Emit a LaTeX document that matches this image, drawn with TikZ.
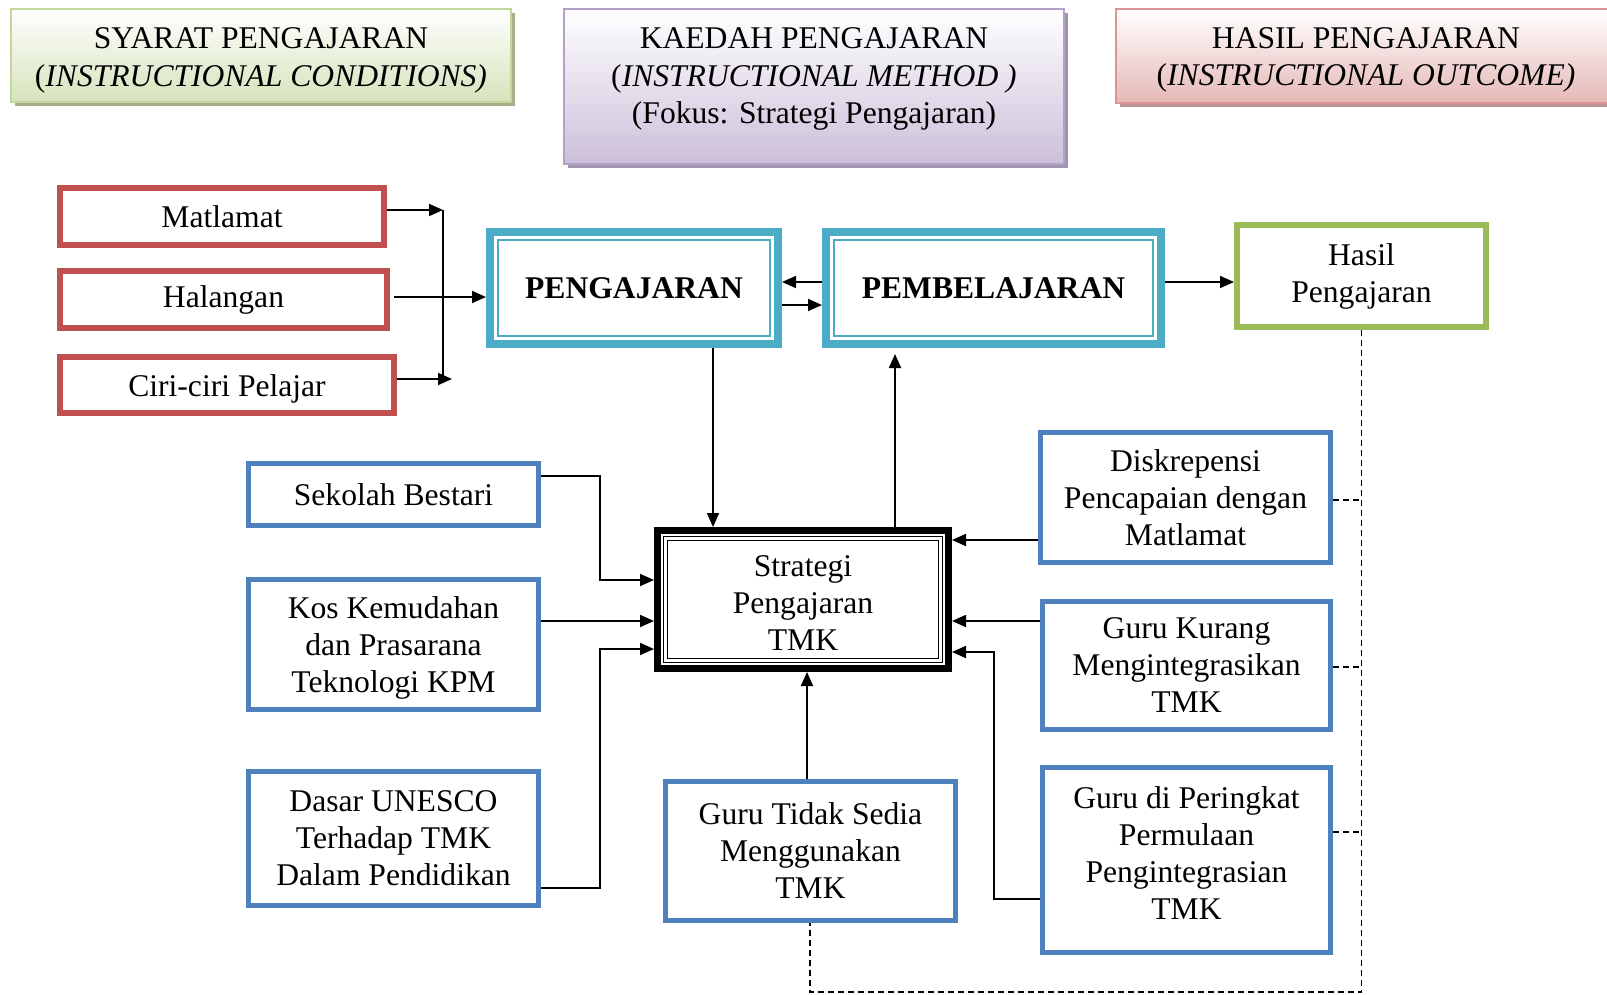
\documentclass[tikz,border=0pt]{standalone}
\usepackage{fontspec}
\setmainfont{Liberation Serif}
\usetikzlibrary{arrows.meta,calc}
\definecolor{cred}{HTML}{C0504D}
\definecolor{cteal}{HTML}{4BACC6}
\definecolor{cgreen}{HTML}{9BBB59}
\definecolor{cblue}{HTML}{4F81BD}
\definecolor{hgreenB}{HTML}{C3D69B}
\definecolor{hgreenF}{HTML}{D6E3BC}
\definecolor{hgreenS}{HTML}{A4AF8E}
\definecolor{hpurB}{HTML}{B2A2C7}
\definecolor{hpurF}{HTML}{CCC0DA}
\definecolor{hpurS}{HTML}{A096AE}
\definecolor{hpinkB}{HTML}{D99594}
\definecolor{hpinkF}{HTML}{E5B8B7}
\definecolor{hpinkS}{HTML}{B89697}
\newcommand{\upstrut}[1]{\rule{0pt}{#1}}
\newcommand{\dnstrut}[1]{\rule[-#1]{0pt}{#1}}
\begin{document}
\begin{tikzpicture}[x=0.5pt,y=-0.5pt,
  every node/.style={inner sep=0pt, align=center, font=\fontsize{15.8}{18.5}\selectfont},
  corners/.style n args={4}{at={({(#1+#3)/2},{(#2+#4)/2})},
      minimum width={(#3-#1)*0.5pt}, minimum height={(#4-#2)*0.5pt}},
  redbox/.style={draw=cred, line width=3pt, outer sep=1.5pt},
  tealbox/.style={draw=cteal, line width=4pt, outer sep=2pt, font=\fontsize{15.8}{18.5}\selectfont\bfseries},
  greenbox/.style={draw=cgreen, line width=3pt, outer sep=1.5pt},
  bluebox/.style={draw=cblue, line width=2.5pt, outer sep=1.25pt},
  stratbox/.style={draw=black, line width=3.5pt, outer sep=1.75pt},
  hdrgreen/.style={draw=hgreenB, line width=1.2pt, top color=white, bottom color=hgreenF},
  hdrpur/.style={draw=hpurB, line width=1.2pt, top color=white, bottom color=hpurF},
  hdrpink/.style={draw=hpinkB, line width=1.2pt, top color=white, bottom color=hpinkF},
  htxt/.style={font=\fontsize{15.8}{18.8}\selectfont},
  conn/.style={line width=0.9pt},
  arr/.style={conn, -{Triangle[length=7pt,width=6pt]}},
  dsh/.style={line width=0.9pt, dash pattern=on 3pt off 2pt},
]
\useasboundingbox (0,0) rectangle (1607,995);
\clip (0,0) rectangle (1607,995);

% headers
\fill[hgreenS] (15,13) rectangle (515,106);
\node[hdrgreen, corners={11}{9}{511}{102}] (hg) {};
\node[htxt] (hgt) at ($(hg.center)+(0,5)$) {SYARAT PENGAJARAN\\(\textit{INSTRUCTIONAL CONDITIONS)}};

\fill[hpurS] (568,13) rectangle (1068,168);
\node[hdrpur, corners={564}{9}{1064}{164}] (hp) {};
\node[htxt] (hpt) at ($(hp.center)+(0,-7.5)$) {KAEDAH PENGAJARAN\\(\textit{INSTRUCTIONAL METHOD )}\\(Fokus: Strategi Pengajaran)};

\fill[hpinkS] (1120,13) rectangle (1620,107);
\node[hdrpink, corners={1116}{9}{1616}{103}] (hk) {};
\node[htxt] (hkt) at ($(hk.center)+(0,4)$) {HASIL PENGAJARAN\\(\textit{INSTRUCTIONAL OUTCOME)}};

% red boxes
\node[redbox, corners={60}{188}{384}{245}] (mat) {Matlamat};
\node[redbox, corners={60}{271}{387}{328}] (hal) {Halangan};
\node[redbox, corners={60}{357}{394}{413}] (ciri) {\upstrut{14.8pt}Ciri-ciri Pelajar};

% teal boxes
\node[tealbox, corners={490}{232}{778}{344}] (peng) {PENGAJARAN};
\node[tealbox, corners={826}{232}{1161}{344}] (pemb) {PEMBELAJARAN};
\draw[cteal, line width=1pt] ([shift={(12,12)}]peng.north west) rectangle ([shift={(-12,-12)}]peng.south east);
\draw[cteal, line width=1pt] ([shift={(12,12)}]pemb.north west) rectangle ([shift={(-12,-12)}]pemb.south east);

% outcome
\node[greenbox, corners={1237}{225}{1486}{327}] (hasil) {Hasil\\Pengajaran};

% strategy
\node[stratbox, corners={657.5}{530.5}{948.5}{668.5}] (strat) {\upstrut{13.8pt}Strategi\\Pengajaran\\TMK};
\draw[line width=0.7pt] ([shift={(9.5,9.5)}]strat.north west) rectangle ([shift={(-9.5,-9.5)}]strat.south east);
\draw[line width=0.7pt] ([shift={(13.5,13.5)}]strat.north west) rectangle ([shift={(-13.5,-13.5)}]strat.south east);

% blue boxes
\node[bluebox, corners={248.5}{463.5}{538.5}{525.5}] (sek) {Sekolah Bestari};
\node[bluebox, corners={248.5}{579.5}{538.5}{709.5}] (kos) {\upstrut{14.8pt}Kos Kemudahan\\dan Prasarana\\Teknologi KPM};
\node[bluebox, corners={248.5}{771.5}{538.5}{905.5}] (dasar) {Dasar UNESCO\\Terhadap TMK\\Dalam Pendidikan};
\node[bluebox, corners={665.5}{781.5}{955.5}{920.5}] (gts) {Guru Tidak Sedia\\Menggunakan\\TMK};
\node[bluebox, corners={1040.5}{432.5}{1330.5}{562.5}] (disk) {Diskrepensi\\Pencapaian dengan\\Matlamat};
\node[bluebox, corners={1042.5}{601.5}{1330.5}{729.5}] (gk) {Guru Kurang\\Mengintegrasikan\\TMK};
\node[bluebox, corners={1042.5}{767.5}{1330.5}{952.5}] (gdp) {Guru di Peringkat\\Permulaan\\Pengintegrasian\\TMK\dnstrut{7pt}};

% connectors: conditions
\coordinate (j1) at (443,210);
\coordinate (j2) at (443,379);
\coordinate (j3) at (452,379);
\draw[arr] (mat.east |- j1) -- (j1);
\draw[conn] (j1) -- (j2);
\draw[arr] (ciri.east |- j3) -- (j3);
\coordinate (yh) at (0,297);
\draw[arr] ([xshift=2pt]hal.east |- yh) -- (peng.west |- yh);

% teaching <-> learning -> outcome
\coordinate (ya) at (0,282);
\coordinate (yb) at (0,305);
\draw[arr] (pemb.west |- ya) -- (peng.east |- ya);
\draw[arr] (peng.east |- yb) -- (pemb.west |- yb);
\draw[arr] (pemb.east |- ya) -- (hasil.west |- ya);

\coordinate (xa) at (713,0);
\coordinate (xb) at (895,0);
\draw[arr] (peng.south -| xa) -- (strat.north -| xa);
\draw[arr, shorten >=3pt] (strat.north -| xb) -- (pemb.south -| xb);

% left inputs
\coordinate (s1) at (600,476);
\coordinate (s2) at (600,580);
\draw[arr] (sek.east |- s1) -- (s1) -- (s2) -- (strat.west |- s2);
\coordinate (k1) at (0,621);
\draw[arr] (kos.east |- k1) -- (strat.west |- k1);
\coordinate (d1) at (600,888);
\coordinate (d2) at (600,649);
\draw[arr] (dasar.east |- d1) -- (d1) -- (d2) -- (strat.west |- d2);

% bottom input
\coordinate (g1) at (807,0);
\draw[arr] (gts.north -| g1) -- (strat.south -| g1);

% right inputs
\coordinate (r1) at (0,540);
\draw[arr] (disk.west |- r1) -- (strat.east |- r1);
\draw[arr] (gk.west |- k1) -- (strat.east |- k1);
\coordinate (p1) at (994,899);
\coordinate (p2) at (994,652);
\draw[arr] (gdp.west |- p1) -- (p1) -- (p2) -- (strat.east |- p2);

% dashed feedback
\coordinate (q1) at (1361,992);
\coordinate (q2) at (810,992);
\draw[dsh] (hasil.south) -- (hasil.south |- q1) -- (q2) -- (gts.south -| q2);
\coordinate (e1) at (1361,500);
\coordinate (e2) at (1361,667);
\coordinate (e3) at (1361,832);
\draw[dsh] (disk.east |- e1) -- (e1);
\draw[dsh] (gk.east |- e2) -- (e2);
\draw[dsh] (gdp.east |- e3) -- (e3);
\end{tikzpicture}
\end{document}
